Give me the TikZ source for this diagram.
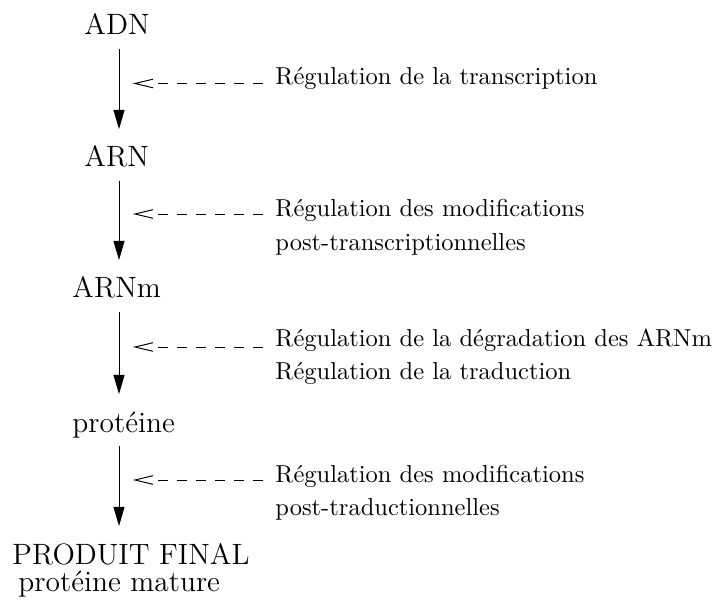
\documentclass[tikz,border=0pt]{standalone}
\usetikzlibrary{arrows.meta,calc}
\begin{document}
\begin{tikzpicture}[x=0.408163pt,y=-0.408163pt,
  mainlabel/.style={font=\large,inner sep=0pt,anchor=base west},
  sidelabel/.style={font=\normalsize,inner sep=0pt,anchor=base west},
  mainarr/.style={line width=0.4pt,-{Triangle[length=7.76pt,width=4.49pt]},shorten <=5.71pt,shorten >=15.51pt},
  dashline/.style={line width=0.4pt,dash pattern=on 4.08pt off 3.67pt,shorten <=4.9pt,shorten >=9.39pt},
  vtip/.style={line width=0.4pt}]
\useasboundingbox (0,0) rectangle (715,605);
\coordinate (ax) at (119,0);
% main chain
\node[mainlabel] (adn) at (84,35) {ADN};
\node[mainlabel] (arn) at (84,167) {ARN};
\node[mainlabel] (arnm) at (72,298) {ARNm};
\node[mainlabel] (prot) at (72,432) {protéine};
\node[mainlabel] (final) at (12,564) {PRODUIT FINAL};
\node[mainlabel] (mature) at (18,591) {protéine mature};
\draw[mainarr] (adn.base -| ax) -- (arn.base -| ax);
\draw[mainarr] (arn.base -| ax) -- (arnm.base -| ax);
\draw[mainarr] (arnm.base -| ax) -- (prot.base -| ax);
\draw[mainarr] (prot.base -| ax) -- (final.base -| ax);
% side labels
\node[sidelabel] (r1) at (275,85) {Régulation de la transcription};
\node[sidelabel] (r2a) at (275,217) {Régulation des modifications};
\node[sidelabel] (r2b) at (275,251) {post-transcriptionnelles};
\node[sidelabel] (r3a) at (275,347) {Régulation de la dégradation des ARNm};
\node[sidelabel] (r3b) at (275,380) {Régulation de la traduction};
\node[sidelabel] (r4a) at (275,482) {Régulation des modifications};
\node[sidelabel] (r4b) at (275,515) {post-traductionnelles};
% dashed regulation arrows
\coordinate (t1) at (135,83.5);
\coordinate (t2) at (135,214);
\coordinate (t3) at (135,347);
\coordinate (t4) at (135,480);
\foreach \r/\t in {r1/t1,r2a/t2,r3a/t3,r4a/t4}{
  \draw[dashline] (\r.base west |- \t) -- (\t);
  \draw[vtip] ($(\t)+(18,-4.3)$) -- (\t) -- ($(\t)+(18,4.3)$);
}
\end{tikzpicture}
\end{document}
